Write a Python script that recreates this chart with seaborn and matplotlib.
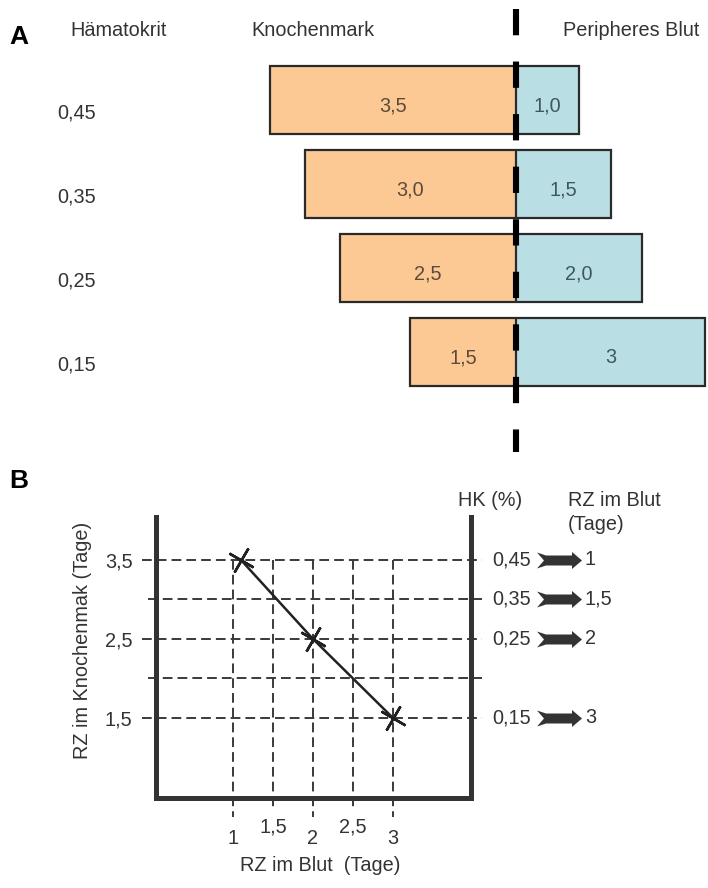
import numpy as np
import matplotlib
matplotlib.use('Agg')
import matplotlib.pyplot as plt
from matplotlib.path import Path
import seaborn as sns

# --- Panel A data ---
hk_labels = ['0,45', '0,35', '0,25', '0,15']
knochenmark = [3.5, 3.0, 2.5, 1.5]
blut = [1.0, 1.5, 2.0, 3.0]
knochenmark_text = ['3,5', '3,0', '2,5', '1,5']
blut_text = ['1,0', '1,5', '2,0', '3']

# --- Panel B data ---
rz_blut = [1.1, 2.0, 3.0]
rz_km = [3.5, 2.5, 1.5]
hk_right = ['0,45', '0,35', '0,25', '0,15']
hk_right_y = [3.5, 3.0, 2.5, 1.5]
rz_blut_right = ['1', '1,5', '2', '3']
grid_y = [1.5, 2.0, 2.5, 3.0, 3.5]
grid_x = [1.0, 1.5, 2.0, 2.5, 3.0]
xt_major, xt_major_lab = [1, 2, 3], ['1', '2', '3']
xt_minor, xt_minor_lab = [1.5, 2.5], ['1,5', '2,5']
yt, yt_lab = [1.5, 2.5, 3.5], ['1,5', '2,5', '3,5']

W, H = 708, 888
ORANGE = '#FCC994'
BLUE = '#B9DEE3'
EDGE = '#2a2a2a'
TXT = '#333333'
FS = 14.3


def px_axes(fig, x0, y0, x1, y1):
    return fig.add_axes([x0 / W, 1 - y1 / H, (x1 - x0) / W, (y1 - y0) / H])


def ftext(fig, x, y, s, **kw):
    return fig.text(x / W, 1 - y / H, s, **kw)


sns.set_style('white')
plt.rcParams['font.family'] = ['Liberation Sans', 'DejaVu Sans']
plt.rcParams['text.color'] = TXT
plt.rcParams['xtick.color'] = TXT
plt.rcParams['ytick.color'] = TXT

fig = plt.figure(figsize=(7.08, 8.88), dpi=100)

# ---------------- Panel A ----------------
axL = px_axes(fig, 0, 0, 516, 460)
axR = px_axes(fig, 516, 0, 708, 460)

sns.barplot(x=[-v for v in knochenmark], y=hk_labels, orient='h', ax=axL,
            color=ORANGE, saturation=1, width=0.82, edgecolor=EDGE, linewidth=1.6)
sns.barplot(x=blut, y=hk_labels, orient='h', ax=axR,
            color=BLUE, saturation=1, width=0.82, edgecolor=EDGE, linewidth=1.6)

anns = axL.bar_label(axL.containers[0], labels=knochenmark_text, label_type='center',
                     fontsize=FS, color='#5c4b3b')
anns += axR.bar_label(axR.containers[0], labels=blut_text, label_type='center',
                      fontsize=FS, color='#3e5862')
for a in anns:
    a.xyann = (0, -4)

axL.set_xlim(-516 / 70.4, 0)
axR.set_xlim(0, 192 / 63)
for ax in (axL, axR):
    ax.set_ylim(4.286, -1.19)
    ax.axis('off')

# hematocrit labels
for i, lab in enumerate(hk_labels):
    axL.text(57 / 516, i + 0.15, lab, transform=axL.get_yaxis_transform(),
             ha='left', va='center', fontsize=FS)

# thick dashed centre line
axR.plot([0, 0], [-1.083, 4.19], color='black', lw=4.4, clip_on=False,
         dashes=(4.3, 4.3), dash_capstyle='butt', zorder=10)

ftext(fig, 9, 37, 'A', fontsize=19, fontweight='bold', color='black', va='center')
ftext(fig, 70, 31, 'Hämatokrit', fontsize=FS, va='center')
ftext(fig, 251, 31, 'Knochenmark', fontsize=FS, va='center')
ftext(fig, 563, 31, 'Peripheres Blut', fontsize=FS, va='center')

# ---------------- Panel B ----------------
axB = px_axes(fig, 156, 517, 471, 798)
axB.set_xlim(0.0375, 3.975)
axB.set_ylim(0.487, 4.044)

dash = (0, (5, 2.6))
for y in grid_y:
    start = -0.1375 if y in yt else -0.0625
    axB.plot([start, 4.11], [y, y], color='#3a3a3a', lw=1.4, ls=dash,
             clip_on=False, zorder=2)
for x in grid_x:
    bottom = 0.247 if float(x).is_integer() else 0.36
    axB.plot([x, x], [3.5, bottom], color='#3a3a3a', lw=1.4, ls=dash,
             clip_on=False, zorder=2)

sns.lineplot(x=rz_blut, y=rz_km, ax=axB, color='#222222', lw=1.8,
             marker=(4, 2, 60), markersize=20, markeredgewidth=1.8,
             markeredgecolor='#222222', zorder=5)

for side in ('left', 'right', 'bottom'):
    axB.spines[side].set_linewidth(3.6)
    axB.spines[side].set_color('#333333')
    axB.spines[side].set_capstyle('projecting')
axB.spines['top'].set_visible(False)

axB.set_xticks(xt_major, xt_major_lab)
axB.set_xticks(xt_minor, xt_minor_lab, minor=True)
axB.set_yticks(yt, yt_lab)
axB.tick_params(axis='x', which='major', length=0, pad=22, labelsize=FS)
axB.tick_params(axis='x', which='minor', length=0, pad=14, labelsize=FS)
axB.tick_params(axis='y', length=0, pad=17, labelsize=FS)

# right-hand hematocrit labels, arrows and blood residence times
verts = np.array([(0, 8), (9, 5), (35, 5), (35, 8.5), (45, 0), (35, -8.5),
                  (35, -5), (9, -5), (0, -8), (7, 0), (0, 8)], dtype=float)
verts[:, 0] -= 22.5
codes = [Path.MOVETO] + [Path.LINETO] * (len(verts) - 2) + [Path.CLOSEPOLY]
arrow = Path(verts, codes)

for y, hk, rz in zip(hk_right_y, hk_right, rz_blut_right):
    axB.text(4.2375, y, hk, ha='left', va='center', fontsize=FS, clip_on=False)
    axB.text(5.4, y, rz, ha='left', va='center', fontsize=FS, clip_on=False)
axB.plot([5.08] * len(hk_right_y), hk_right_y, ls='none', marker=arrow,
         ms=32.4, mew=0, color='#333333', clip_on=False)

ftext(fig, 9, 481, 'B', fontsize=19, fontweight='bold', color='black', va='center')
ftext(fig, 490, 500, 'HK (%)', fontsize=FS, ha='center', va='center')
ftext(fig, 568, 500, 'RZ im Blut', fontsize=FS, va='center')
ftext(fig, 568, 525, '(Tage)', fontsize=FS, va='center')
ftext(fig, 82, 640, 'RZ im Knochenmak (Tage)', fontsize=FS, rotation=90,
      ha='center', va='center')
ftext(fig, 320, 865, 'RZ im Blut  (Tage)', fontsize=FS, ha='center', va='center')

fig.savefig('out.png', dpi=100)
